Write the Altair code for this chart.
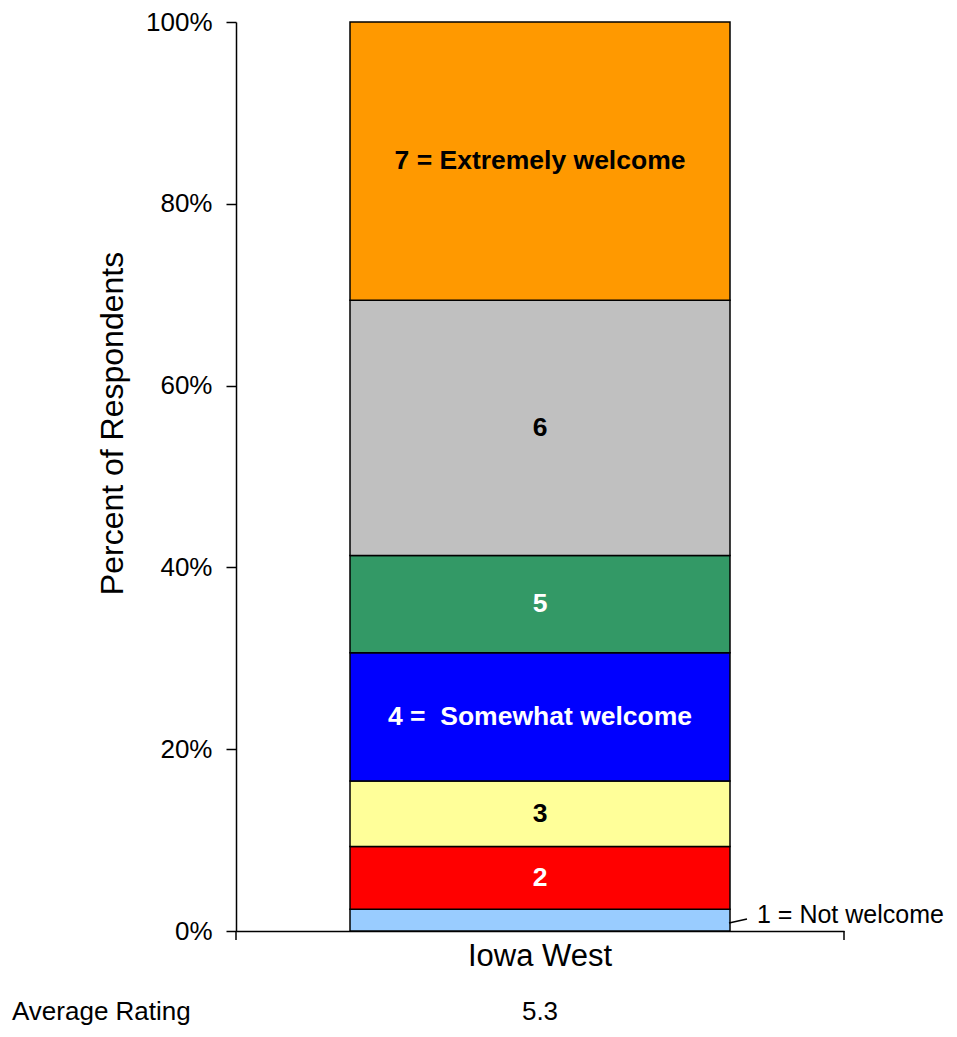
import altair as alt
import pandas as pd

# ---- data ----
ratings = [1, 2, 3, 4, 5, 6, 7]
percents = [2.4, 6.9, 7.2, 14.1, 10.7, 28.1, 30.6]
bar_labels = ["", "2", "3", "4 =\u00a0 Somewhat welcome", "5", "6", "7 = Extremely welcome"]
label_colors = ["#000000", "#FFFFFF", "#000000", "#FFFFFF", "#FFFFFF", "#000000", "#000000"]
bar_colors = ["#99CCFF", "#FF0000", "#FFFF99", "#0000FF", "#339966", "#C0C0C0", "#FF9900"]
group = "Iowa West"
outside_label = "1 = Not welcome"
avg_title = "Average Rating"
avg_value = "5.3"
y_ticks = [0, 0.2, 0.4, 0.6, 0.8, 1.0]

FONT = "Arial, Liberation Sans, sans-serif"

df = pd.DataFrame({
    "rating": ratings,
    "pct": [p / 100 for p in percents],
    "label": bar_labels,
    "lcolor": label_colors,
    "group": group,
})
df["cum"] = df["pct"].cumsum()
df["mid"] = df["cum"] - df["pct"] / 2

x_scale = alt.Scale(paddingInner=0, paddingOuter=0.3)
y_scale = alt.Scale(domain=[0, 1])

bars = alt.Chart(df).mark_bar(stroke="black", strokeWidth=1.5).encode(
    x=alt.X("group:N", scale=x_scale, title=None,
            axis=alt.Axis(title=None, labelFontSize=31, labelAngle=0, ticks=False,
                          labelPadding=10, domainColor="black", domainWidth=1.5,
                          labelColor="black", labelFont=FONT)),
    y=alt.Y("pct:Q", stack="zero", scale=y_scale, title="Percent of Respondents",
            axis=alt.Axis(values=y_ticks, format=".0%", labelFontSize=26, labelColor="black",
                          labelFont=FONT, tickColor="black", domainColor="black", tickSize=10,
                          labelPadding=14, grid=False, title="Percent of Respondents",
                          titleFontSize=32, titleFontWeight="normal", titleColor="black",
                          titleFont=FONT, titlePadding=16, titleY=401,
                          domainWidth=1.5, tickWidth=1.5)),
    color=alt.Color("rating:O", scale=alt.Scale(domain=ratings, range=bar_colors), legend=None),
    order=alt.Order("rating:Q"),
)

labels = alt.Chart(df).transform_filter(alt.datum.label != "").mark_text(
    fontSize=26.5, fontWeight="bold", font=FONT
).encode(
    x=alt.X("group:N", scale=x_scale),
    y=alt.Y("mid:Q", scale=y_scale),
    text="label:N",
    color=alt.Color("lcolor:N", scale=None),
)

out_label = alt.Chart(df).transform_filter(alt.datum.rating == 1).mark_text(
    fontSize=25, font=FONT, align="left", dy=-5, color="black"
).encode(
    x=alt.value(521),
    y=alt.Y("mid:Q", scale=y_scale),
    text=alt.value(outside_label),
)

one = pd.DataFrame({"a": [0]})
leader = alt.Chart(one).mark_rule(color="black", strokeWidth=1.5).encode(
    x=alt.value(493), x2=alt.value(511), y=alt.value(901), y2=alt.value(897)
)
tick_l = alt.Chart(one).mark_rule(color="black", strokeWidth=1.5).encode(
    x=alt.value(0), y=alt.value(909), y2=alt.value(918)
)
tick_r = alt.Chart(one).mark_rule(color="black", strokeWidth=1.5).encode(
    x=alt.value(608), y=alt.value(909), y2=alt.value(918)
)

avg_df = pd.DataFrame({"group": [group], "t": [avg_title], "v": [avg_value]})
avg_t = alt.Chart(avg_df).mark_text(
    fontSize=26, font=FONT, align="left", baseline="alphabetic", color="black"
).encode(x=alt.value(-224), y=alt.value(998), text="t:N")
avg_v = alt.Chart(avg_df).mark_text(
    fontSize=26, font=FONT, align="center", baseline="alphabetic", color="black"
).encode(x=alt.X("group:N", scale=x_scale), y=alt.value(998), text="v:N")

chart = alt.layer(bars, labels, out_label, leader, tick_l, tick_r, avg_t, avg_v).properties(
    width=608, height=909,
    autosize=alt.AutoSizeParams(type="none"),
    padding={"left": 228, "top": 14, "right": 104, "bottom": 96},
).configure_view(stroke=None)

chart.save("out.html", embed_options={"renderer": "svg", "actions": False})
